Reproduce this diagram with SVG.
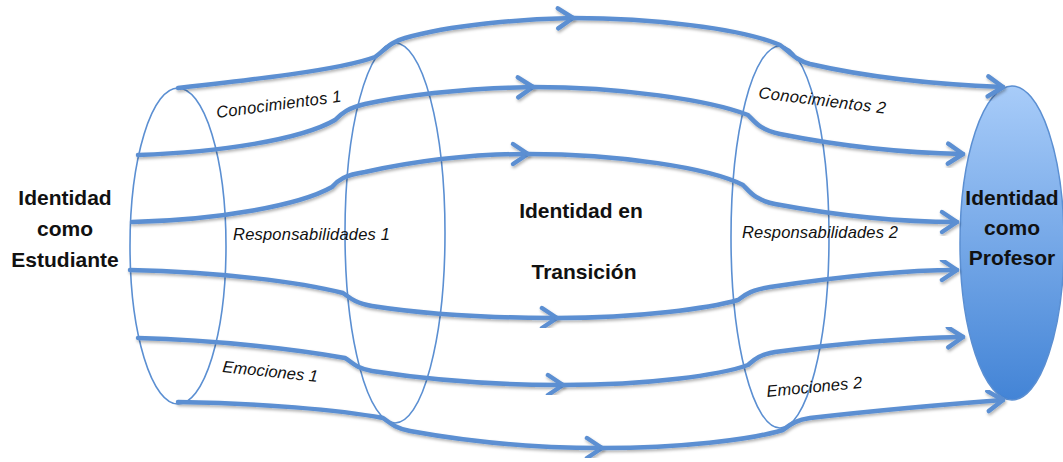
<svg xmlns="http://www.w3.org/2000/svg" width="1063" height="462" viewBox="0 0 1063 462">
<style>
.ring{fill:none;stroke:#5b8fd2;stroke-width:1.6}
.flow{fill:none;stroke:#5b8fd2;stroke-width:4.5;stroke-linecap:round;stroke-linejoin:round;filter:url(#sh)}
.mid{marker-end:url(#chev)}
.title{font-family:"Liberation Sans",Arial,sans-serif;font-weight:bold;font-size:21px;fill:#111;text-anchor:middle}
.lab{font-family:"Liberation Sans",Arial,sans-serif;font-style:italic;font-size:16.5px;fill:#111}
</style>
<defs>
<linearGradient id="gp" x1="0" y1="0" x2="0" y2="1">
<stop offset="0" stop-color="#a8ccf9"/>
<stop offset="1" stop-color="#4384d6"/>
</linearGradient>
<filter id="sh" x="-5%" y="-20%" width="110%" height="140%">
<feDropShadow dx="1" dy="2" stdDeviation="1.5" flood-color="#000" flood-opacity="0.3"/>
</filter>
<marker id="chev" markerUnits="userSpaceOnUse" markerWidth="24" markerHeight="28" refX="17" refY="13" orient="auto" overflow="visible">
<path d="M2,3 L17,13 L2,23" fill="none" stroke="#5b8fd2" stroke-width="4.5" stroke-linecap="round" stroke-linejoin="round"/>
</marker>
</defs>
<rect width="1063" height="462" fill="#fff"/>

<g id="node-estudiante">
<ellipse class="ring" cx="178" cy="246" rx="48" ry="158"/>
<text class="title" x="65" y="205">Identidad</text>
<text class="title" x="65" y="236">como</text>
<text class="title" x="65" y="267">Estudiante</text>
</g>

<g id="node-transicion-a">
<ellipse class="ring" cx="395" cy="233" rx="50" ry="190"/>
</g>
<g id="node-transicion-b">
<ellipse class="ring" cx="780" cy="237" rx="49" ry="191"/>
</g>
<g id="node-transicion-label">
<text class="title" x="581" y="218">Identidad en</text>
<text class="title" x="584" y="279">Transición</text>
</g>

<g id="node-profesor">
<ellipse cx="1012" cy="243" rx="52" ry="157" fill="url(#gp)" stroke="#5b8fd2" stroke-width="1.5"/>
</g>

<g id="connectors">
<path class="flow mid" d="M178,88 C250,80 340,70 375,57 C385,50 390,42 405,38 C450,25 520,19 573,18"/>
<path class="flow mid" d="M573,18 C650,18 740,28 780,45 C790,52 795,60 810,64 C880,80 950,85 1003,87"/>

<path class="flow mid" d="M138,155 C220,152 300,140 335,120 C342,113 348,108 365,104 C420,92 480,88 533,87"/>
<path class="flow mid" d="M533,87 C620,87 710,100 748,115 C755,122 760,130 780,134 C850,148 910,153 963,154"/>

<path class="flow mid" d="M132,222 C220,220 300,205 332,187 C338,180 345,175 365,172 C420,160 480,154 528,154"/>
<path class="flow mid" d="M528,154 C620,154 710,168 743,185 C750,192 755,200 775,204 C850,218 910,222 957,222"/>

<path class="flow mid" d="M127,244 L957,244"/>

<path class="flow mid" d="M130,270 C220,272 300,282 343,293 C350,298 355,303 372,306 C430,315 500,318 557,318"/>
<path class="flow mid" d="M557,318 C640,318 710,308 738,300 C745,295 750,290 770,287 C850,275 910,270 957,270"/>

<path class="flow mid" d="M138,338 C220,340 300,350 345,358 C352,362 355,368 372,371 C430,380 500,385 563,385"/>
<path class="flow mid" d="M563,385 C650,385 720,375 748,365 C754,360 758,355 775,352 C850,342 910,338 963,337"/>

<path class="flow mid" d="M178,402 C260,403 340,410 383,418 C390,423 395,428 410,431 C470,442 540,448 602,448"/>
<path class="flow mid" d="M602,448 C680,448 750,440 783,430 C790,425 795,420 810,418 C880,410 950,404 1003,400"/>
</g>

<g id="labels">
<text class="lab" transform="translate(217,118) rotate(-7.5)" textLength="126">Conocimientos 1</text>
<text class="lab" x="233" y="240" textLength="157">Responsabilidades 1</text>
<text class="lab" transform="translate(222,372) rotate(6)" textLength="96">Emociones 1</text>
<text class="lab" transform="translate(758,98) rotate(7)" textLength="128">Conocimientos 2</text>
<text class="lab" x="742" y="238" textLength="156">Responsabilidades 2</text>
<text class="lab" transform="translate(767,397) rotate(-5.5)" textLength="96">Emociones 2</text>
</g>

<g id="node-profesor-text">
<text class="title" x="1012" y="205">Identidad</text>
<text class="title" x="1012" y="235">como</text>
<text class="title" x="1012" y="265">Profesor</text>
</g>
</svg>
